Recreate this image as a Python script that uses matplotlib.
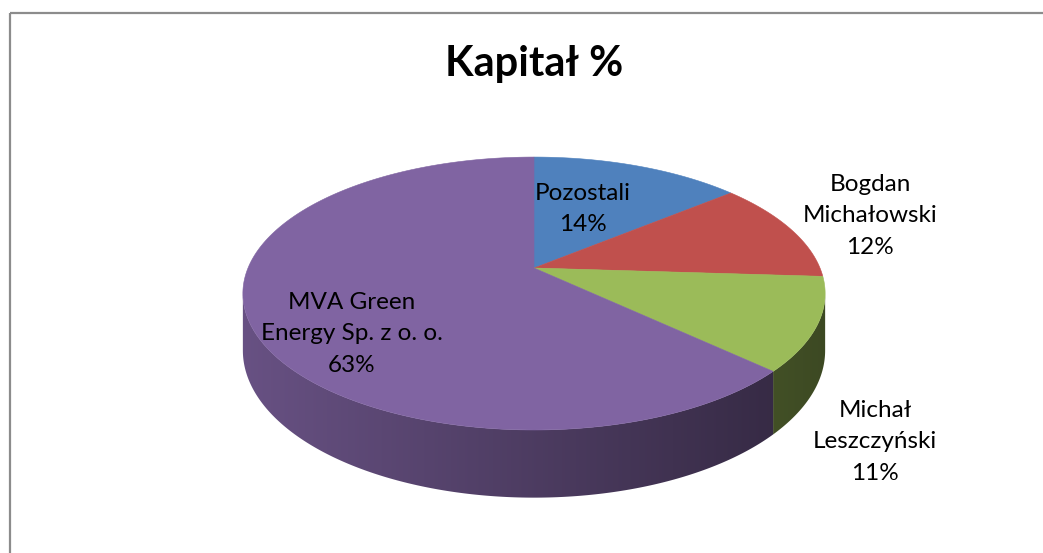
import numpy as np
import matplotlib
matplotlib.use("Agg")
import matplotlib.pyplot as plt
from matplotlib.patches import Polygon, Rectangle
from matplotlib.colors import to_rgb

title = "Kapitał %"
labels = ["Pozostali", "Bogdan\nMichałowski", "Michał\nLeszczyński", "MVA Green\nEnergy Sp. z o. o."]
values = [14, 12, 11, 63]
colors = ["#4f81bd", "#c0504d", "#9bbb59", "#8064a2"]

# where each label sits (pixel coords, y down)
label_pos = [(583, 209), (870, 216), (875, 442), (352, 334)]

# 3d pie geometry (pixels)
CX, CY = 534, 268      # apex of the pie on screen
A, B = 286, 131.7      # radii before perspective
P = 0.187              # perspective strength
H = 55                 # thickness


def project(theta, z=0.0):
    u = np.sin(theta)
    v = -np.cos(theta)
    d = 1 - P * v
    return CX + A * u / d, CY + (B * v + H * z) / d


def shade(x):
    return np.clip(0.60 - 0.21 * (x - CX) / 291, 0.3, 0.9)


def main():
    dpi = 100
    fig = plt.figure(figsize=(1043 / dpi, 553 / dpi), dpi=dpi)
    ax = fig.add_axes([0, 0, 1, 1])
    ax.set_xlim(0, 1043)
    ax.set_ylim(553, 0)
    ax.axis("off")

    # chart border
    ax.add_patch(Rectangle((9.5, 12.5), 1100, 600, fill=False,
                           edgecolor="#8c8c8c", linewidth=1.6))

    total = sum(values)
    bounds = np.cumsum([0] + values) / total * 2 * np.pi
    vis_lo = np.pi - np.arccos(P)   # silhouette angles
    vis_hi = np.pi + np.arccos(P)

    # visible side of the pie, shaded with a horizontal gradient
    for i, col in enumerate(colors):
        a0 = max(bounds[i], vis_lo)
        a1 = min(bounds[i + 1], vis_hi)
        if a1 <= a0:
            continue
        ts = np.linspace(a0, a1, 200)
        tx, ty = project(ts)
        bx, by = project(ts[::-1], 1)
        pts = list(zip(tx, ty)) + list(zip(bx, by))
        patch = Polygon(pts, closed=True, facecolor="none", edgecolor="none")
        ax.add_patch(patch)
        x0, x1 = min(tx.min(), bx.min()) - 2, max(tx.max(), bx.max()) + 2
        y0, y1 = min(ty.min(), by.min()) - 2, max(ty.max(), by.max()) + 2
        gx = np.linspace(x0, x1, 400)
        grad = np.array(to_rgb(col))[None, None, :] * shade(gx)[None, :, None]
        im = ax.imshow(grad, extent=(x0, x1, y1, y0), aspect="auto",
                       interpolation="bilinear", zorder=1)
        im.set_clip_path(patch)
    ax.set_xlim(0, 1043)
    ax.set_ylim(553, 0)

    # top face
    for i, col in enumerate(colors):
        ts = np.linspace(bounds[i], bounds[i + 1], 200)
        xs, ys = project(ts)
        pts = [(CX, CY)] + list(zip(xs, ys))
        ax.add_patch(Polygon(pts, closed=True, facecolor=col, edgecolor=col,
                             linewidth=0.4, zorder=2))

    for lab, val, (lx, ly) in zip(labels, values, label_pos):
        ax.text(lx, ly, f"{lab}\n{val}%", ha="center", va="center",
                fontsize=17.5, family="Lato", linespacing=1.6, color="black",
                zorder=3)

    ax.text(534, 64, title, ha="center", va="center", fontsize=30,
            family="Lato", fontweight="bold", zorder=3)

    plt.savefig("out.png", dpi=dpi)


if __name__ == "__main__":
    main()
